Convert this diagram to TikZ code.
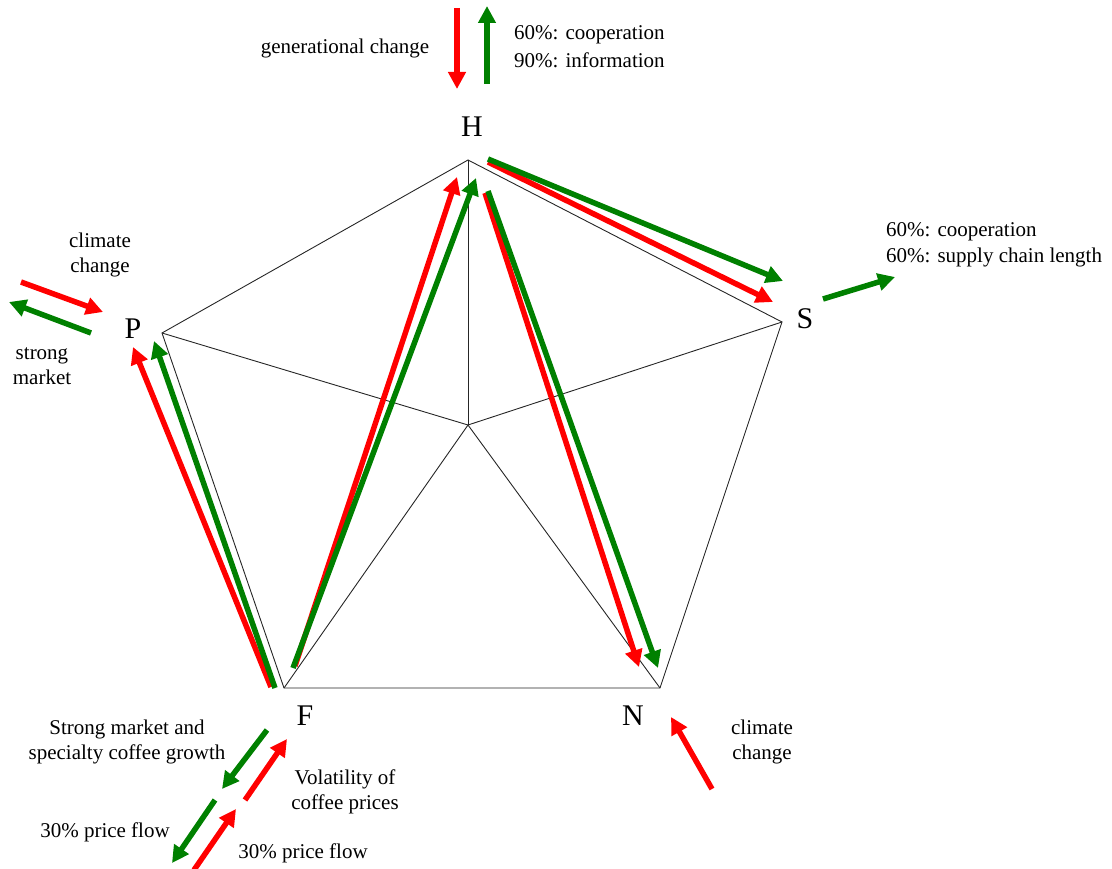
\documentclass[tikz,border=0pt]{standalone}
\usepackage{fontspec}
\setmainfont{Liberation Serif}
\newfontfamily\tnr{Liberation Serif}
\usetikzlibrary{arrows.meta}
\definecolor{agreen}{RGB}{0,128,0}
\definecolor{ared}{RGB}{255,0,0}
\tikzset{
  edge/.style={draw=black!85, line width=0.9pt},
  flow/.style={line width=5.5pt, -{Triangle[length=17pt,width=17pt]}},
  redflow/.style={flow, draw=ared, ared},
  greenflow/.style={flow, draw=agreen, agreen},
  vlabel/.style={font=\tnr\fontsize{30}{34}\selectfont, inner sep=0pt},
  txt/.style={font=\tnr\fontsize{21}{25}\selectfont, inner sep=0pt, align=center},
  txtl/.style={font=\tnr\fontsize{21}{25}\selectfont, inner sep=0pt, align=left, anchor=west},
}
\begin{document}
\begin{tikzpicture}[x=1pt,y=-1pt]
\useasboundingbox (0,0) rectangle (1112,869);
% pentagon
\coordinate (vH) at (468,160);
\coordinate (vS) at (782,322);
\coordinate (vN) at (660,688);
\coordinate (vF) at (284,688);
\coordinate (vP) at (162,333);
\coordinate (vC) at (468,425);
\draw[edge] (vH) -- (vS) -- (vN) -- (vF) -- (vP) -- cycle;
\foreach \v in {vH,vS,vN,vF,vP} \draw[edge] (vC) -- (\v);
% vertex labels
\node[vlabel] (H) at (472,127) {H};
\node[vlabel] (S) at (805,319) {S};
\node[vlabel] (N) at (633,716) {N};
\node[vlabel] (F) at (305,716) {F};
\node[vlabel] (P) at (133,329) {P};
% internal arrows
\coordinate (fp1) at (271,687); \coordinate (fp2) at (133,347);
\coordinate (fp3) at (275,688); \coordinate (fp4) at (154,341);
\draw[redflow] (fp1) -- (fp2);
\draw[greenflow] (fp3) -- (fp4);
\coordinate (fh1) at (295,666); \coordinate (fh2) at (457,177);
\coordinate (fh3) at (293,668); \coordinate (fh4) at (476,178);
\draw[redflow] (fh1) -- (fh2);
\draw[greenflow] (fh3) -- (fh4);
\coordinate (hn1) at (485,193); \coordinate (hn2) at (639,667);
\coordinate (hn3) at (488,191); \coordinate (hn4) at (658,668);
\draw[redflow] (hn1) -- (hn2);
\draw[greenflow] (hn3) -- (hn4);
\coordinate (hs1) at (488,162); \coordinate (hs2) at (773,302);
\coordinate (hs3) at (488,159); \coordinate (hs4) at (783,281);
\draw[redflow] (hs1) -- (hs2);
\draw[greenflow] (hs3) -- (hs4);
% H external
\coordinate (ht1) at (457,8); \coordinate (ht2) at (457,89);
\coordinate (ht3) at (487,84); \coordinate (ht4) at (487,6);
\draw[redflow] (ht1) -- (ht2);
\draw[greenflow] (ht3) -- (ht4);
\node[txt] (hgen) at (345,48) {generational change};
\node[txtl] (hcoop) at (514,35) {60\%: cooperation};
\node[txtl] (hinfo) at (514,60) {90\%: information};
% P external
\coordinate (pe1) at (21,282); \coordinate (pe2) at (103,312);
\coordinate (pe3) at (91,333); \coordinate (pe4) at (9,302);
\draw[redflow] (pe1) -- (pe2);
\draw[greenflow] (pe3) -- (pe4);
\node[txt] (pclim) at (100,255) {climate\\change};
\node[txt] (pmark) at (42,366) {strong\\market};
% S external
\coordinate (se1) at (823,299); \coordinate (se2) at (895,277);
\draw[greenflow] (se1) -- (se2);
\node[txtl] (scoop) at (886,232) {60\%: cooperation};
\node[txtl] (schain) at (886,257) {60\%: supply chain length};
% N external
\coordinate (ne1) at (712,789); \coordinate (ne2) at (671,717);
\draw[redflow] (ne1) -- (ne2);
\node[txt] (nclim) at (762,742) {climate\\change};
% F external
\coordinate (fa1) at (267,730); \coordinate (fa2) at (222,789);
\coordinate (fa3) at (215,800); \coordinate (fa4) at (172,863);
\coordinate (fb1) at (245,800); \coordinate (fb2) at (287,739);
\coordinate (fb3) at (194,870); \coordinate (fb4) at (236,809);
\draw[greenflow] (fa1) -- (fa2);
\draw[greenflow] (fa3) -- (fa4);
\draw[redflow] (fb1) -- (fb2);
\draw[redflow] (fb3) -- (fb4);
\node[txt] (fstrong) at (127,742) {Strong market and\\specialty coffee growth};
\node[txt] (fprice1) at (105,832) {30\% price flow};
\node[txt] (fvol) at (345,792) {Volatility of\\coffee prices};
\node[txt] (fprice2) at (303,853) {30\% price flow};
\end{tikzpicture}
\end{document}
